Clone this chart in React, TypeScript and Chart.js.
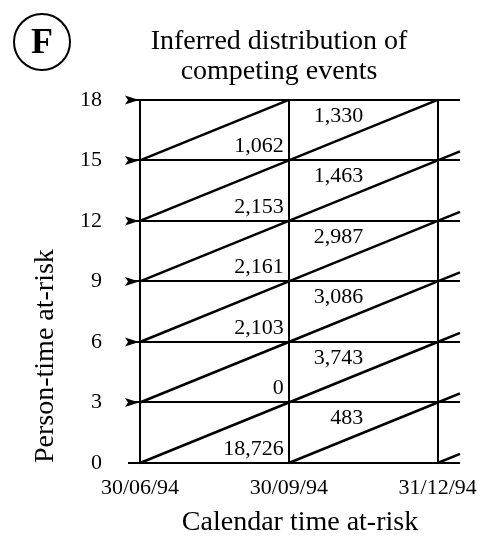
import React, { useEffect, useRef } from 'react';
import { Chart, registerables } from 'chart.js';

Chart.register(...registerables);

// ---- data ----
const calendarTicks = [0, 1, 2]; // quarters after 30/06/94
const calendarTickLabels = ['30/06/94', '30/09/94', '31/12/94'];
const personTimeTicks = [0, 3, 6, 9, 12, 15, 18];
// counts per person-time band (0-3, 3-6, ..., 15-18)
const firstQuarterCounts = [18726, 0, 2103, 2161, 2153, 1062]; // 30/06/94 – 30/09/94
const secondQuarterCounts = [483, 3743, 3086, 2987, 1463, 1330]; // 30/09/94 – 31/12/94
const calendarMax = 2.15;
const stubQuarters = 0.15;
const titleLines = ['Inferred distribution of', 'competing events'];
const xTitle = 'Calendar time at-risk';
const yTitle = 'Person-time at-risk';
const panelLetter = 'F';

const SERIF = "'Liberation Serif', 'Times New Roman', serif";
const bandStarts = personTimeTicks.slice(0, -1);
const bandWidth = personTimeTicks[1] - personTimeTicks[0];

function buildDiagonals() {
  const sets: any[] = [];
  calendarTicks.slice(0, -1).forEach((q) => {
    bandStarts.forEach((b) => {
      sets.push([{ x: q, y: b }, { x: q + 1, y: b + bandWidth }]);
    });
  });
  const last = calendarTicks[calendarTicks.length - 1];
  bandStarts.forEach((b) => {
    sets.push([{ x: last, y: b }, { x: last + stubQuarters, y: b + stubQuarters * bandWidth }]);
  });
  return sets.map((data) => ({
    data,
    showLine: true,
    borderColor: '#000',
    borderWidth: 2.5,
    pointRadius: 0,
    clip: false,
  }));
}

const fmt = (n: number) => n.toLocaleString('en-US');

const annotate = {
  id: 'annotate',
  afterDatasetsDraw(chart: any) {
    const { ctx, scales } = chart;
    const x = scales.x;
    const y = scales.y;
    ctx.save();
    ctx.fillStyle = '#000';
    ctx.strokeStyle = '#000';
    ctx.font = `22px ${SERIF}`;
    ctx.textBaseline = 'middle';
    ctx.textAlign = 'right';
    bandStarts.forEach((b, i) => {
      ctx.fillText(fmt(firstQuarterCounts[i]), x.getPixelForValue(calendarTicks[1]) - 5, y.getPixelForValue(b) - 14);
      ctx.fillText(fmt(secondQuarterCounts[i]), x.getPixelForValue(calendarTicks[1] + 0.5), y.getPixelForValue(b + bandWidth) + 16);
    });
    // arrow heads on y ticks
    const px = x.getPixelForValue(calendarTicks[0]);
    personTimeTicks.slice(1).forEach((v) => {
      const py = y.getPixelForValue(v);
      ctx.beginPath();
      ctx.moveTo(px - 1, py);
      ctx.lineTo(px - 15, py - 4.5);
      ctx.lineTo(px - 12, py);
      ctx.lineTo(px - 15, py + 4.5);
      ctx.closePath();
      ctx.fill();
    });
    // circled panel letter
    ctx.lineWidth = 2;
    ctx.beginPath();
    ctx.arc(42, 42, 28, 0, Math.PI * 2);
    ctx.stroke();
    ctx.font = `bold 36px ${SERIF}`;
    ctx.textAlign = 'center';
    ctx.textBaseline = 'middle';
    ctx.fillText(panelLetter, 42, 44);
    ctx.restore();
  },
};

const zeroPad = (s: any) => {
  s.paddingLeft = 0; s.paddingRight = 0; s.paddingTop = 0; s.paddingBottom = 0;
};

export default function App() {
  const ref = useRef<HTMLCanvasElement>(null);
  useEffect(() => {
    if (!ref.current) return;
    const chart = new Chart(ref.current, {
      type: 'scatter',
      data: { datasets: buildDiagonals() },
      options: {
        animation: false,
        responsive: false,
        layout: { padding: { left: 74, right: 0, top: 0, bottom: 0 } },
        plugins: {
          legend: { display: false },
          tooltip: { enabled: false },
          title: {
            display: true,
            text: titleLines,
            color: '#000',
            font: { family: SERIF, size: 28, weight: 'normal', lineHeight: 1.07 },
            padding: { top: 27, bottom: 13 },
          },
        },
        scales: {
          x: {
            type: 'linear',
            min: 0,
            max: calendarMax,
            afterBuildTicks: (s: any) => {
              s.ticks = calendarTicks.map((v) => ({ value: v }));
            },
            afterFit: (s: any) => {
              s.height = 79;
              zeroPad(s);
            },
            ticks: {
              autoSkip: false,
              maxRotation: 0,
              padding: 12,
              color: '#000',
              font: { family: SERIF, size: 22 },
              callback: (v: any) => calendarTickLabels[calendarTicks.indexOf(Number(v))] ?? '',
            },
            grid: { color: '#000', lineWidth: 2, drawTicks: false },
            border: { display: false },
            title: {
              display: true,
              text: xTitle,
              color: '#000',
              font: { family: SERIF, size: 28 },
              padding: { top: 0, bottom: 3 },
            },
          },
          y: {
            type: 'linear',
            position: 'left',
            min: personTimeTicks[0],
            max: personTimeTicks[personTimeTicks.length - 1],
            afterBuildTicks: (s: any) => {
              s.ticks = personTimeTicks.map((v) => ({ value: v }));
            },
            afterFit: (s: any) => {
              s.width = 66;
              zeroPad(s);
            },
            ticks: {
              padding: 26,
              color: '#000',
              font: { family: SERIF, size: 22 },
            },
            grid: { color: '#000', lineWidth: 2, tickLength: 12, drawTicks: true },
            border: { display: false },
            title: {
              display: true,
              text: yTitle,
              align: 'start',
              color: '#000',
              font: { family: SERIF, size: 28 },
              padding: { top: -45, bottom: 0 },
            },
          },
          spacer: {
            type: 'linear',
            position: 'right',
            display: true,
            ticks: { display: false },
            grid: { display: false },
            border: { display: false },
            title: { display: false },
            afterFit: (s: any) => {
              s.width = 24;
              zeroPad(s);
            },
          },
        },
      } as any,
      plugins: [annotate],
    });
    return () => chart.destroy();
  }, []);
  return (
    <div style={{ position: 'fixed', left: 0, top: 0, width: 484, height: 542, background: '#fff' }}>
      <canvas ref={ref} width={484} height={542} />
    </div>
  );
}
